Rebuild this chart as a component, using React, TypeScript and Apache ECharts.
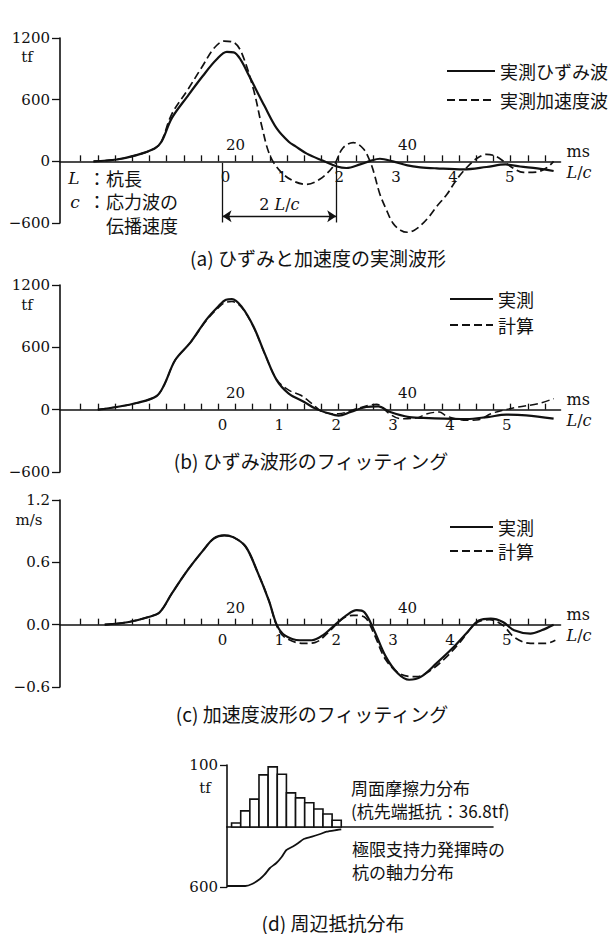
import React, { useEffect, useRef } from 'react';
import * as echarts from 'echarts';

// ---------- tick / label values ----------
const FORCE_TICKS = [-600, 0, 600, 1200];
const VEL_TICKS = [-0.6, 0, 0.6, 1.2];
const MS_TICKS = [2, 4, 6, 8, 10, 12, 14, 16, 18, 20, 22, 24, 26, 28, 30, 32, 34, 36, 38, 40, 42, 44, 46, 48, 50, 52, 54, 56];
const MS_LABELS = [20, 40];
const LC_LABELS = [0, 1, 2, 3, 4, 5];
const MS_RANGE = [-0.4, 57.8];
const LC_ORIGIN_MS = 18.5; // time (ms) where L/c = 0
const LC_UNIT_MS = 6.61; // one L/c in ms
const ARROW_SPAN_LC = [0, 2];

// ---------- (a) measured waves ----------
const A_STRAIN: number[][] = [
  [3.5, 0], [6.2, 18], [8.5, 60], [10.6, 125], [11.4, 190], [12.6, 420], [14.4, 630], [16.2, 830],
  [17.8, 990], [19.0, 1065], [19.8, 1060], [20.6, 990], [21.6, 830], [23.4, 535], [24.8, 320],
  [26.2, 190], [27.0, 145], [28.3, 75], [30.2, 5], [31.8, -50], [32.9, -65], [34.5, -30], [35.7, 5],
  [36.8, 25], [38.3, 0], [40.0, -40], [41.5, -58], [43.4, -68], [46.5, -78], [49.2, -55], [51.4, -30],
  [53.1, -50], [55.1, -68], [57.0, -94],
];
const A_ACCEL: number[][] = [
  [3.5, 0], [6.2, 18], [8.5, 60], [10.6, 125], [11.4, 195], [12.6, 460], [14.4, 690], [16.2, 930],
  [17.5, 1100], [18.7, 1170], [19.8, 1157], [20.7, 1060], [22.1, 700], [23.1, 330], [24.0, 60],
  [25.2, -95], [26.7, -190], [28.3, -224], [29.8, -175], [31.4, -45], [32.5, 130], [33.7, 183],
  [34.9, 120], [35.7, -10], [36.1, -110], [36.8, -320], [37.5, -460], [38.3, -600], [39.2, -670],
  [40.0, -690], [40.8, -670], [41.6, -620], [42.5, -540], [43.4, -440], [44.6, -320], [45.7, -180],
  [46.9, -60], [48.1, 30], [49.2, 68], [50.2, 52], [51.2, 0], [51.9, -45], [53.5, -108], [55.0, -104],
  [56.2, -62], [57.0, 0],
];

// ---------- (b) strain fitting ----------
const B_MEASURED: number[][] = [
  [4.0, 0], [6.2, 26], [8.5, 64], [10.8, 129], [11.7, 236], [13.0, 478], [14.8, 650], [16.6, 865],
  [18.0, 994], [18.9, 1058], [19.6, 1065], [20.7, 994], [22.1, 800], [23.4, 542], [24.8, 284],
  [26.2, 155], [28.0, 74], [29.3, 10], [30.7, -32], [32.0, -58], [33.4, -23], [35.2, 26], [36.6, 32],
  [38.0, -23], [40.2, -71], [42.5, -81], [46.9, -90], [49.3, -71], [51.5, -48], [53.8, -55], [57.0, -87],
];
const B_CALC: number[][] = [
  [4.0, 0], [6.2, 26], [8.5, 64], [10.8, 129], [11.7, 236], [13.0, 478], [14.8, 650], [16.6, 855],
  [18.0, 980], [18.9, 1035], [19.6, 1040], [20.7, 985], [22.1, 795], [23.4, 540], [24.8, 290],
  [26.2, 187], [27.6, 139], [28.9, 58], [30.2, -23], [32.0, -39], [33.7, 0], [35.5, 42], [36.4, 52],
  [37.9, -39], [39.2, -87], [41.0, -81], [42.3, -39], [43.7, -23], [44.6, -64], [46.9, -103],
  [48.3, -97], [49.7, -39], [51.1, -6], [52.9, 26], [55.2, 58], [57.0, 106],
];

// ---------- (c) velocity fitting ----------
const C_MEASURED: number[][] = [
  [4.8, 0], [7.6, 0.026], [9.9, 0.074], [11.2, 0.12], [12.6, 0.3], [14.4, 0.52], [16.2, 0.71],
  [17.5, 0.83], [18.7, 0.86], [19.8, 0.84], [21.2, 0.75], [22.5, 0.52], [23.9, 0.23], [24.8, 0],
  [25.7, -0.1], [27.5, -0.15], [28.9, -0.15], [30.2, -0.1], [31.6, 0], [32.9, 0.09], [34.1, 0.14],
  [35.0, 0.12], [36.1, -0.05], [37.5, -0.31], [38.9, -0.47], [40.2, -0.53], [41.6, -0.5], [43.4, -0.37],
  [45.2, -0.23], [47.0, -0.07], [48.3, 0.04], [49.7, 0.058], [51.1, 0.026], [52.4, -0.054],
  [54.3, -0.086], [55.6, -0.054], [57.0, 0],
];
const C_CALC: number[][] = [
  [4.8, 0], [7.6, 0.026], [9.9, 0.074], [11.2, 0.12], [12.6, 0.3], [14.4, 0.52], [16.2, 0.71],
  [17.5, 0.83], [18.7, 0.86], [19.8, 0.84], [21.2, 0.75], [22.5, 0.52], [23.9, 0.23], [24.8, -0.01],
  [25.7, -0.12], [27.9, -0.18], [29.3, -0.17], [31.1, -0.05], [32.5, 0.06], [33.7, 0.09], [35.0, 0.074],
  [36.1, -0.086], [37.5, -0.34], [39.3, -0.48], [41.1, -0.5], [42.5, -0.45], [44.3, -0.33],
  [46.1, -0.17], [47.9, 0.01], [49.5, 0.048], [51.1, -0.006], [52.4, -0.12], [54.3, -0.18],
  [56.1, -0.18], [57.2, -0.15],
];

// ---------- (d) skin friction distribution ----------
const D_FRICTION = [6.5, 26, 45, 84, 97, 85, 55, 47, 39, 29, 21, 11];
const D_AXIAL: number[][] = [
  [-0.5, 590], [1.5, 590], [2.3, 567], [3.1, 520], [3.6, 477], [4.2, 410], [4.9, 360], [5.5, 297],
  [6.0, 230], [6.8, 190], [7.3, 160], [7.9, 120], [8.8, 97], [9.7, 70], [10.4, 47], [11.5, 30], [12.0, 23],
];
const D_X_RANGE = [-0.5, 28.6];
const D_FRICTION_TICKS = [100];
const D_AXIAL_TICKS = [600];

// ---------- styling ----------
const INK = '#111';
const NUM_FONT = 'DejaVu Serif';
const JP_FONT = 'Noto Sans CJK JP';

const PANELS = [
  { top: 38, height: 185, ticks: FORCE_TICKS },
  { top: 285, height: 187, ticks: FORCE_TICKS },
  { top: 500, height: 187, ticks: VEL_TICKS },
];
const GRID_LEFT = 60;
const GRID_WIDTH = 500.5;

const lcMin = (MS_RANGE[0] - LC_ORIGIN_MS) / LC_UNIT_MS;
const lcMax = (MS_RANGE[1] - LC_ORIGIN_MS) / LC_UNIT_MS;
const lcToMs = (lc: number) => LC_ORIGIN_MS + lc * LC_UNIT_MS;

const italicRich = { i: { fontStyle: 'italic', fontFamily: NUM_FONT, fontSize: 16, color: INK } };

function fmtForce(v: number) {
  return v < 0 ? '\u2212' + Math.abs(v) : String(v);
}
function fmtVel(v: number) {
  return (v < 0 ? '\u2212' : '') + Math.abs(v).toFixed(1);
}

function buildOption() {
  const grids: any[] = [];
  const xAxes: any[] = [];
  const yAxes: any[] = [];

  PANELS.forEach((p, k) => {
    const min = p.ticks[0];
    const max = p.ticks[p.ticks.length - 1];
    const interval = p.ticks[1] - p.ticks[0];
    grids.push({ left: GRID_LEFT, top: p.top, width: GRID_WIDTH, height: p.height });
    const zeroFromTop = (p.height * max) / (max - min);
    xAxes.push({
      type: 'value', gridIndex: k, position: 'top', offset: -zeroFromTop,
      min: MS_RANGE[0], max: MS_RANGE[1],
      axisLine: { show: true, onZero: false, lineStyle: { color: INK, width: 1.6 } },
      axisTick: { show: true, customValues: MS_TICKS, length: 6, lineStyle: { color: INK, width: 1.3 } },
      axisLabel: { show: true, customValues: MS_LABELS, margin: 9, color: INK, fontFamily: NUM_FONT, fontSize: 15 },
      splitLine: { show: false },
      name: 'ms', nameLocation: 'end', nameGap: 6,
      nameTextStyle: { color: INK, fontFamily: NUM_FONT, fontSize: 16, verticalAlign: 'bottom', align: 'left', padding: [0, 0, 2, 0] },
    });
    xAxes.push({
      type: 'value', gridIndex: k, position: 'bottom', offset: -(p.height - zeroFromTop),
      min: lcMin, max: lcMax,
      axisLine: { show: false, onZero: false },
      axisTick: { show: false },
      axisLabel: {
        show: true, customValues: LC_LABELS, margin: 8, color: INK, fontFamily: NUM_FONT, fontSize: 15,
        padding: k === 0 ? [0, 0, 0, 6] : 0,
      },
      splitLine: { show: false },
      name: '{i|L}/{i|c}', nameLocation: 'end', nameGap: 6,
      nameTextStyle: { color: INK, fontFamily: NUM_FONT, fontSize: 16, verticalAlign: 'top', align: 'left', padding: [3, 0, 0, 0], rich: italicRich },
    });
    yAxes.push({
      type: 'value', gridIndex: k, min, max, interval,
      axisLine: { show: true, onZero: false, lineStyle: { color: INK, width: 1.6 } },
      axisTick: { show: true, length: 8, lineStyle: { color: INK, width: 1.3 } },
      axisLabel: { margin: 10, color: INK, fontFamily: NUM_FONT, fontSize: 15, formatter: k === 2 ? fmtVel : fmtForce },
      splitLine: { show: false },
    });
  });

  // (d) upper grid (friction) and lower grid (axial force)
  grids.push({ left: 227, top: 765, width: 266, height: 62 });
  grids.push({ left: 227, top: 827, width: 266, height: 60 });
  xAxes.push({
    type: 'value', gridIndex: 3, min: D_X_RANGE[0], max: D_X_RANGE[1],
    axisLine: { show: true, onZero: false, lineStyle: { color: INK, width: 1.6 } },
    axisTick: { show: false }, axisLabel: { show: false }, splitLine: { show: false },
  });
  xAxes.push({
    type: 'value', gridIndex: 4, min: D_X_RANGE[0], max: D_X_RANGE[1], show: false,
  });
  yAxes.push({
    type: 'value', gridIndex: 3, min: 0, max: 100,
    axisLine: { show: true, onZero: false, lineStyle: { color: INK, width: 1.6 } },
    axisTick: { show: true, customValues: D_FRICTION_TICKS, length: 7, lineStyle: { color: INK, width: 1.3 } },
    axisLabel: { show: true, customValues: D_FRICTION_TICKS, margin: 9, color: INK, fontFamily: NUM_FONT, fontSize: 15 },
    splitLine: { show: false },
  });
  yAxes.push({
    type: 'value', gridIndex: 4, min: 0, max: 600, inverse: true,
    axisLine: { show: true, onZero: false, lineStyle: { color: INK, width: 1.6 } },
    axisTick: { show: true, customValues: D_AXIAL_TICKS, length: 7, lineStyle: { color: INK, width: 1.3 } },
    axisLabel: { show: true, customValues: D_AXIAL_TICKS, margin: 9, color: INK, fontFamily: NUM_FONT, fontSize: 15 },
    splitLine: { show: false },
  });

  const solid = { color: INK, width: 2.2, type: 'solid' };
  const dashed = { color: INK, width: 1.7, type: [8, 4] };
  const lineBase = { type: 'line', symbol: 'none', showSymbol: false, smooth: 0.35, clip: false, silent: true, itemStyle: { color: INK } };

  const x0 = lcToMs(ARROW_SPAN_LC[0]);
  const x2 = lcToMs(ARROW_SPAN_LC[1]);

  const series: any[] = [
    {
      ...lineBase, name: '実測ひずみ波', xAxisIndex: 0, yAxisIndex: 0, data: A_STRAIN, lineStyle: solid,
      markLine: {
        silent: true, animation: false, precision: 3,
        lineStyle: { color: INK, width: 1.3, type: 'solid' },
        symbolSize: 9,
        label: { show: false },
        emphasis: { disabled: true },
        data: [
          [{ coord: [x0, -15], symbol: 'none' }, { coord: [x0, -595], symbol: 'none' }],
          [{ coord: [x2, -15], symbol: 'none' }, { coord: [x2, -595], symbol: 'none' }],
          [
            {
              coord: [x0, -535], symbol: 'arrow',
              label: {
                show: true, position: 'middle', distance: 4, formatter: '2 {i|L}/{i|c}',
                color: INK, fontFamily: NUM_FONT, fontSize: 16, rich: italicRich,
              },
            },
            { coord: [x2, -535], symbol: 'arrow' },
          ],
        ],
      },
    },
    { ...lineBase, name: '実測加速度波', xAxisIndex: 0, yAxisIndex: 0, data: A_ACCEL, lineStyle: dashed },
    { ...lineBase, name: '実測', xAxisIndex: 2, yAxisIndex: 1, data: B_MEASURED, lineStyle: solid },
    { ...lineBase, name: '計算', xAxisIndex: 2, yAxisIndex: 1, data: B_CALC, lineStyle: { ...dashed, width: 1.5 } },
    { ...lineBase, name: '実測', xAxisIndex: 4, yAxisIndex: 2, data: C_MEASURED, lineStyle: solid },
    { ...lineBase, name: '計算', xAxisIndex: 4, yAxisIndex: 2, data: C_CALC, lineStyle: dashed },
    {
      type: 'custom', name: '周面摩擦力', xAxisIndex: 6, yAxisIndex: 3, silent: true,
      data: D_FRICTION.map((v, i) => [i, v]),
      renderItem: (_params: any, api: any) => {
        const i = api.value(0);
        const v = api.value(1);
        const p0 = api.coord([i, v]);
        const p1 = api.coord([i + 1, 0]);
        return {
          type: 'rect',
          shape: { x: p0[0], y: p0[1], width: p1[0] - p0[0], height: p1[1] - p0[1] },
          style: { fill: '#fff', stroke: INK, lineWidth: 1.6 },
        };
      },
    },
    { ...lineBase, name: '軸力', xAxisIndex: 7, yAxisIndex: 4, data: D_AXIAL, smooth: 0.2, lineStyle: { color: INK, width: 1.8 } },
  ];

  const legendText = { color: INK, fontFamily: JP_FONT, fontSize: 18 };
  const legendCommon = {
    orient: 'vertical', itemHeight: 14, selectedMode: false,
    textStyle: legendText,
    itemStyle: { color: 'rgba(0,0,0,0)', borderColor: 'rgba(0,0,0,0)', borderWidth: 0 },
  };

  const jp = (size: number) => `${size}px "${JP_FONT}"`;
  const num = (size: number, italic = false) => `${italic ? 'italic ' : ''}${size}px "${NUM_FONT}"`;
  const txt = (text: string, x: number, y: number, font: string, align = 'left') => ({
    type: 'text', x, y, silent: true,
    style: { text, font, fill: INK, align, verticalAlign: 'middle' },
  });
  const block = (text: string, x: number, top: number, font: string, lineHeight: number) => ({
    type: 'text', x, y: top, silent: true,
    style: { text, font, fill: INK, align: 'left', verticalAlign: 'top', lineHeight },
  });

  const graphicElements = [
    txt('tf', 27, 57, num(15), 'center'),
    txt('tf', 27, 305, num(15), 'center'),
    txt('m/s', 29, 520, num(15), 'center'),
    txt('tf', 205, 788, num(15), 'center'),
    // (a) notes
    txt('L', 74, 178, num(17, true), 'center'),
    txt('c', 75, 202, num(17, true), 'center'),
    block('：杭長\n：応力波の\n\u3000伝播速度', 88, 166, jp(18), 23.5),
    // captions
    txt('(a) ひずみと加速度の実測波形', 318, 257, jp(19), 'center'),
    txt('(b) ひずみ波形のフィッティング', 311, 460, jp(19), 'center'),
    txt('(c) 加速度波形のフィッティング', 312, 713, jp(19), 'center'),
    txt('(d) 周辺抵抗分布', 333, 922, jp(19), 'center'),
    // (d) notes
    block('周面摩擦力分布\n(杭先端抵抗：36.8tf)', 351, 775.5, jp(17), 23),
    block('極限支持力発揮時の\n杭の軸力分布', 352, 836.5, jp(17), 23),
  ];

  return {
    animation: false,
    backgroundColor: '#fff',
    grid: grids,
    xAxis: xAxes,
    yAxis: yAxes,
    legend: [
      { ...legendCommon, left: 441, top: 57, itemWidth: 48, itemGap: 11, data: ['実測ひずみ波', '実測加速度波'] },
      { ...legendCommon, left: 444, top: 285, itemWidth: 43, itemGap: 8, data: ['実測', '計算'] },
      { ...legendCommon, left: 444, top: 513, itemWidth: 43, itemGap: 6, data: ['実測', '計算'] },
    ],
    series,
    graphic: { elements: graphicElements },
  };
}

export default function App() {
  const ref = useRef<HTMLDivElement>(null);
  useEffect(() => {
    if (!ref.current) return;
    const chart = echarts.init(ref.current, null, { renderer: 'svg' });
    chart.setOption(buildOption() as any);
    return () => chart.dispose();
  }, []);
  return (
    <div
      ref={ref}
      style={{ position: 'absolute', left: 0, top: 0, width: 611, height: 934, background: '#fff' }}
    />
  );
}
